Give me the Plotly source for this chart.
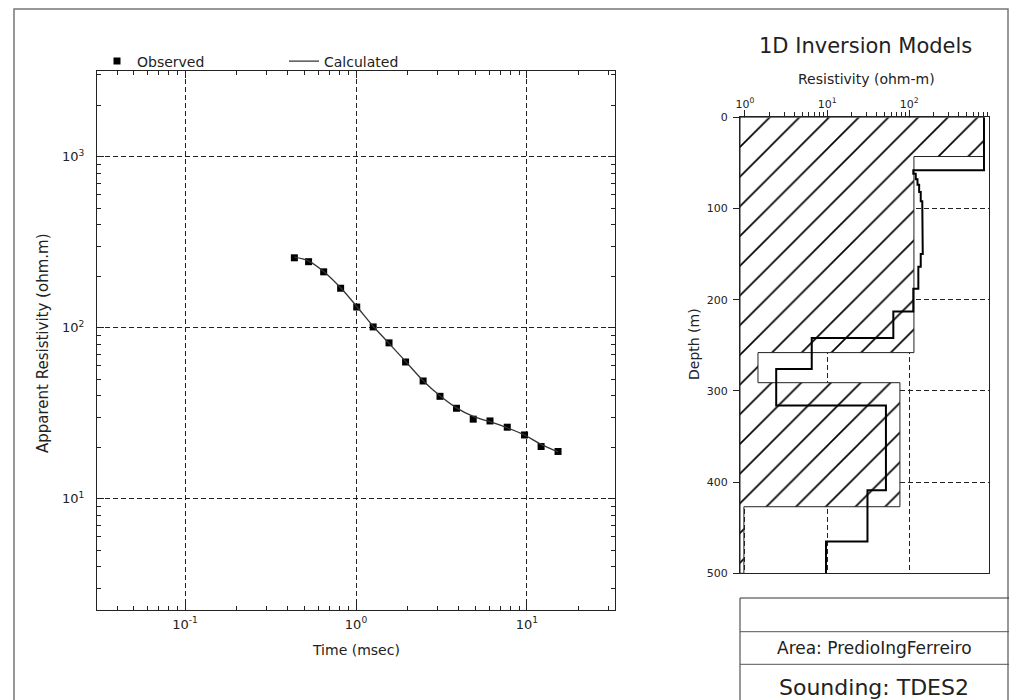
import plotly.graph_objects as go
import numpy as np

W, H = 1009, 700
FONT = "DejaVu Sans"

# ---------------- data: TEM sounding curve ----------------
time_ms = [0.436, 0.528, 0.647, 0.813, 1.01, 1.26, 1.56, 1.95, 2.47, 3.10,
           3.87, 4.85, 6.08, 7.67, 9.68, 12.1, 15.2]
rho_obs = [256, 243, 212, 170, 132, 101, 81.5, 63, 48.8, 39.7,
           33.8, 29.2, 28.5, 26.2, 23.6, 20.2, 18.9]
rho_calc = [258, 245, 213, 171, 133, 102, 81, 63.5, 49, 40,
            34, 30.3, 28.2, 26.0, 23.6, 20.8, 18.8]

# ---------------- data: 1D model ----------------
model_top = [0, 58, 62, 68, 74, 82, 92, 127, 150, 164, 188, 213, 242, 276, 316, 409, 465]
model_res = [812, 112, 120, 126, 132, 138, 144, 146, 138, 129, 112, 64, 6.5, 2.4, 52, 31, 9.7]
max_depth = 500

env_top = [0, 43, 258, 291, 427]
env_max = [812, 114, 1.44, 77, 0.97]
env_min = [0.87, 0.87, 0.87, 0.87, 0.87]

left_ticks = [0.1, 1, 10]
left_ticktext = ["10<sup>-1</sup>", "10<sup>0</sup>", "10<sup>1</sup>"]
y_ticks = [10, 100, 1000]
y_ticktext = ["10<sup>1</sup>", "10<sup>2</sup>", "10<sup>3</sup>"]
res_ticks = [1, 10, 100]
res_ticktext = ["10<sup>0</sup>", "10<sup>1</sup>", "10<sup>2</sup>"]
depth_ticks = [0, 100, 200, 300, 400, 500]


def stairs(tops, vals, bottom):
    xs, ys = [], []
    for i, v in enumerate(vals):
        t = tops[i]
        b = tops[i + 1] if i + 1 < len(tops) else bottom
        xs += [v, v]
        ys += [t, b]
    return xs, ys


def minor_vals(lo_dec, hi_dec):
    out = []
    for d in range(lo_dec, hi_dec + 1):
        for m in range(2, 10):
            out.append(m * 10 ** d)
    return out


fig = go.Figure()

# envelope polygon
rx, ry = stairs(env_top, env_max, max_depth)
lx, ly = stairs(env_top, env_min, max_depth)
px = rx + lx[::-1] + [rx[0]]
py = ry + ly[::-1] + [ry[0]]
fig.add_trace(go.Scatter(
    x=px, y=py, xaxis="x2", yaxis="y2", mode="lines", fill="toself",
    line=dict(color="#222", width=1),
    fillcolor="white",
    fillpattern=dict(shape="/", size=21, solidity=0.08, fgcolor="black",
                     fgopacity=1, bgcolor="white"),
    showlegend=False, hoverinfo="skip"))

mx, my = stairs(model_top, model_res, max_depth)
fig.add_trace(go.Scatter(
    x=mx, y=my, xaxis="x2", yaxis="y2", mode="lines",
    line=dict(color="black", width=2), showlegend=False))

# sounding curve
fig.add_trace(go.Scatter(
    x=time_ms, y=rho_obs, mode="markers", name="Observed",
    marker=dict(symbol="square", size=7, color="black")))
fig.add_trace(go.Scatter(
    x=time_ms, y=rho_calc, mode="lines", name="Calculated",
    line=dict(color="#333", width=1.3, shape="spline")))

grid = dict(showgrid=True, gridcolor="#222", gridwidth=1, griddash="5px,3px",
            automargin=False, zeroline=False)
tickfont = dict(family=FONT, size=13, color="#222")
tickfont2 = dict(family=FONT, size=11, color="#222")

fig.update_layout(
    width=W, height=H,
    margin=dict(l=0, r=0, t=0, b=0, pad=0, autoexpand=False),
    paper_bgcolor="white", plot_bgcolor="rgba(0,0,0,0)",
    font=dict(family=FONT, size=14, color="#222"),
    xaxis=dict(type="log", range=[-1.515, 1.515], domain=[97 / W, 615 / W],
               anchor="y", tickvals=left_ticks, ticktext=left_ticktext,
               ticks="inside", ticklen=7, tickcolor="#222",
               showline=True, linecolor="#222", linewidth=1, mirror="ticks",
               minor=dict(tickvals=minor_vals(-2, 1), ticks="inside", ticklen=4,
                          tickcolor="#222", showgrid=False),
               tickfont=tickfont, ticklabelstandoff=2, **grid),
    yaxis=dict(type="log", range=[0.35, 3.5], domain=[1 - 610 / H, 1 - 71 / H],
               anchor="x", tickvals=y_ticks, ticktext=y_ticktext,
               ticks="inside", ticklen=7, tickcolor="#222",
               showline=True, linecolor="#222", linewidth=1, mirror="ticks",
               minor=dict(tickvals=minor_vals(0, 3), ticks="inside", ticklen=4,
                          tickcolor="#222", showgrid=False),
               tickfont=tickfont, ticklabelstandoff=9, **grid),
    xaxis2=dict(type="log", range=[np.log10(0.87), np.log10(935)],
                domain=[740 / W, 989 / W], anchor="y2", side="top",
                tickvals=res_ticks, ticktext=res_ticktext,
                ticks="outside", ticklen=6, tickcolor="#222",
                showline=True, linecolor="#222", linewidth=1, mirror=True,
                minor=dict(tickvals=minor_vals(0, 2), ticks="outside", ticklen=4,
                           tickcolor="#222", showgrid=False),
                tickfont=tickfont2, ticklabelstandoff=-2, **grid),
    yaxis2=dict(range=[max_depth, 0], domain=[1 - 573.3 / H, 1 - 117.3 / H],
                anchor="x2", tickvals=depth_ticks,
                ticks="outside", ticklen=6, tickcolor="#222",
                showline=True, linecolor="#222", linewidth=1, mirror=True,
                tickfont=tickfont2, ticklabelstandoff=3, **grid),
    legend=dict(orientation="h", x=97 / W, y=1 - 77.5 / H, xanchor="left", yanchor="bottom",
                bgcolor="rgba(0,0,0,0)", font=dict(family=FONT, size=14, color="#222"),
                entrywidth=142, entrywidthmode="pixels", itemwidth=30),
    showlegend=True,
)

ann = [
    dict(text="Apparent Resistivity (ohm.m)", x=43 / W, y=1 - 343 / H, textangle=-90,
         font=dict(size=15)),
    dict(text="Time (msec)", x=356 / W, y=1 - 650 / H, font=dict(size=14)),
    dict(text="1D Inversion Models", x=865 / W, y=1 - 46 / H, font=dict(size=21)),
    dict(text="Resistivity (ohm-m)", x=866 / W, y=1 - 79 / H, font=dict(size=14)),
    dict(text="Depth (m)", x=694 / W, y=1 - 344 / H, textangle=-90, font=dict(size=14)),
    dict(text="Area: PredioIngFerreiro", x=874 / W, y=1 - 648 / H, font=dict(size=17)),
    dict(text="Sounding: TDES2", x=874 / W, y=1 - 687 / H, font=dict(size=22)),
]
for a in ann:
    a.update(xref="paper", yref="paper", showarrow=False, xanchor="center", yanchor="middle")
    a["font"].update(family=FONT, color="#222")
fig.update_layout(annotations=ann)

shapes = [
    dict(type="rect", x0=14 / W, y0=1 - 712 / H, x1=1008 / W, y1=1 - 9 / H,
         line=dict(color="#777", width=1.5)),
    dict(type="rect", x0=740 / W, y0=1 - 712 / H, x1=1012 / W, y1=1 - 598 / H,
         line=dict(color="#333", width=1)),
    dict(type="line", x0=740 / W, y0=1 - 631.7 / H, x1=1012 / W, y1=1 - 631.7 / H,
         line=dict(color="#555", width=1)),
    dict(type="line", x0=740 / W, y0=1 - 664.3 / H, x1=1012 / W, y1=1 - 664.3 / H,
         line=dict(color="#555", width=1)),
]
for s in shapes:
    s.update(xref="paper", yref="paper")
fig.update_layout(shapes=shapes)

fig.write_html("out.html",
               config={"displayModeBar": False},
               post_script="document.body.style.margin='0';document.body.style.overflow='hidden';")
